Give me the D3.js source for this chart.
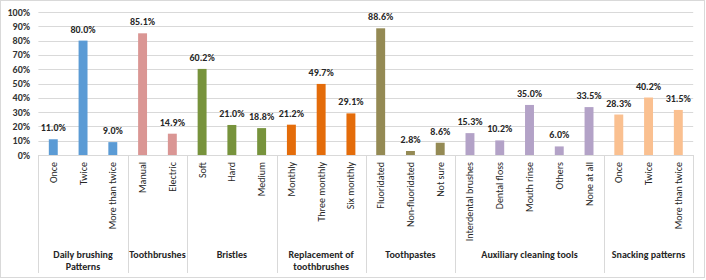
<!DOCTYPE html>
<html>
<head>
<meta charset="utf-8">
<script src="https://cdn.jsdelivr.net/npm/d3@7"></script>
<style>
  html, body { margin: 0; padding: 0; background: #fff; }
  svg { display: block; font-family: Calibri, Carlito, Lato, "Open Sans", sans-serif; }
</style>
</head>
<body>
<svg id="chart" width="706" height="280"></svg>
<script>
// ---- data ----
const groups = ["Daily brushing|Patterns", "Toothbrushes", "Bristles", "Replacement of|toothbrushes", "Toothpastes", "Auxiliary cleaning tools", "Snacking patterns"];
const groupColors = ["#5B9BD5", "#DA9694", "#77933C", "#E46C0A", "#948A54", "#B3A2C7", "#FAC090"];
const categories = [
  ["Once", "Twice", "More than twice"],
  ["Manual", "Electric"],
  ["Soft", "Hard", "Medium"],
  ["Monthly", "Three monthly", "Six monthly"],
  ["Fluoridated", "Non-fluoridated", "Not sure"],
  ["Interdental brushes", "Dental floss", "Mouth rinse", "Others", "None at all"],
  ["Once", "Twice", "More than twice"]
];
const values = [
  [11.0, 80.0, 9.0],
  [85.1, 14.9],
  [60.2, 21.0, 18.8],
  [21.2, 49.7, 29.1],
  [88.6, 2.8, 8.6],
  [15.3, 10.2, 35.0, 6.0, 33.5],
  [28.3, 40.2, 31.5]
];
const yTicks = [0, 10, 20, 30, 40, 50, 60, 70, 80, 90, 100];

// ---- flatten ----
const rows = [];
categories.forEach((cats, gi) => cats.forEach((c, ci) => rows.push({ g: gi, key: gi + "-" + ci, label: c, value: values[gi][ci] })));

const svg = d3.select("#chart");
const plotLeft = 38.4, plotRight = 693.2, plotTop = 12, plotBase = 155;

// chart border
svg.append("rect").attr("x", 0.5).attr("y", 0.5).attr("width", 704).attr("height", 277)
  .attr("fill", "#fff").attr("stroke", "#d9d9d9");

const x = d3.scaleBand().domain(rows.map(d => d.key)).range([plotLeft, plotRight]).paddingInner(0.7).paddingOuter(0.35);
const y = d3.scaleLinear().domain([0, 100]).range([plotBase, plotTop]);

// gridlines
svg.append("g").selectAll("line").data(yTicks).join("line")
  .attr("x1", plotLeft).attr("x2", plotRight)
  .attr("y1", d => Math.round(y(d)) + 0.5).attr("y2", d => Math.round(y(d)) + 0.5)
  .attr("stroke", "#d9d9d9").attr("stroke-width", 1);

// y tick labels
svg.append("g").selectAll("text").data(yTicks).join("text")
  .attr("x", 30).attr("y", d => y(d)).attr("dy", "0.35em")
  .attr("text-anchor", "end").attr("font-size", 10).attr("font-weight", "bold").attr("fill", "#333")
  .text(d => d + "%");

// bars
svg.append("g").selectAll("rect").data(rows).join("rect")
  .attr("x", d => x(d.key)).attr("width", x.bandwidth())
  .attr("y", d => y(d.value)).attr("height", d => plotBase - y(d.value))
  .attr("fill", d => groupColors[d.g]);

// data labels
svg.append("g").selectAll("text").data(rows).join("text")
  .attr("x", d => x(d.key) + x.bandwidth() / 2).attr("y", d => y(d.value) - 8)
  .attr("text-anchor", "middle").attr("font-size", 10).attr("font-weight", "bold").attr("fill", "#262626")
  .text(d => d.value.toFixed(1) + "%");

// category labels (rotated)
svg.append("g").selectAll("text").data(rows).join("text")
  .attr("transform", d => `translate(${x(d.key) + x.bandwidth() / 2},162) rotate(-90)`)
  .attr("dy", "0.35em").attr("text-anchor", "end")
  .attr("font-size", 10).attr("fill", "#262626")
  .text(d => d.label);

// group separators
let idx = 0;
const bounds = [0];
categories.forEach(c => { idx += c.length; bounds.push(idx); });
const xEdge = i => plotLeft + i * (plotRight - plotLeft) / rows.length;
svg.append("g").selectAll("line").data(bounds).join("line")
  .attr("x1", d => Math.round(xEdge(d)) + 0.5).attr("x2", d => Math.round(xEdge(d)) + 0.5)
  .attr("y1", plotBase).attr("y2", 273)
  .attr("stroke", "#d9d9d9");

// group labels
const gl = svg.append("g");
groups.forEach((g, gi) => {
  const cx = (xEdge(bounds[gi]) + xEdge(bounds[gi + 1])) / 2;
  g.split("|").forEach((line, li) => {
    gl.append("text").attr("x", cx).attr("y", 258 + li * 12)
      .attr("text-anchor", "middle").attr("font-size", 10).attr("font-weight", "bold").attr("fill", "#262626")
      .text(line);
  });
});
</script>
</body>
</html>
